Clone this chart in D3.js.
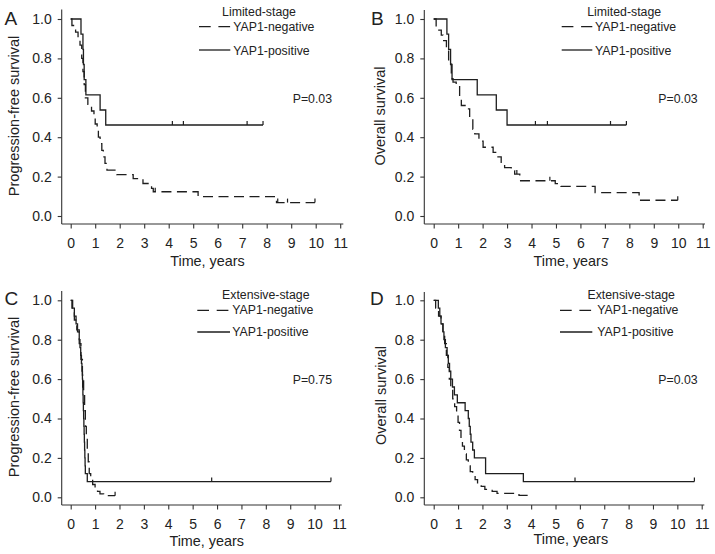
<!DOCTYPE html>
<html><head><meta charset="utf-8">
<script src="https://cdn.jsdelivr.net/npm/d3@7"></script>
<style>
body{margin:0;background:#fff}
svg{display:block}
text{font-family:"Liberation Sans",Arial,Helvetica,sans-serif;fill:#222}
</style>
</head><body>
<svg id="chart" width="715" height="554"></svg>
<script>
// ---- tick labels ----
const xTicks = [0,1,2,3,4,5,6,7,8,9,10,11];
const yTicks = [0,0.2,0.4,0.6,0.8,1.0];

// ---- series: [time (years), survival] ----
const limitedPfsNeg = [[0,1],[0.05,0.967],[0.2,0.933],[0.3,0.9],[0.38,0.867],[0.45,0.8],[0.5,0.733],[0.55,0.667],[0.6,0.6],[0.7,0.567],[0.85,0.533],[0.95,0.5],[1.0,0.467],[1.08,0.433],[1.13,0.4],[1.2,0.367],[1.27,0.333],[1.33,0.3],[1.4,0.267],[1.48,0.233],[1.88,0.21],[2.55,0.19],[2.95,0.165],[3.3,0.14],[3.37,0.123],[5.2,0.098],[8.4,0.068],[9.97,0.068]];
const limitedPfsPos = [[0,1],[0.42,0.923],[0.5,0.846],[0.52,0.769],[0.55,0.692],[0.62,0.615],[1.2,0.538],[1.43,0.462],[7.85,0.462]];
const limitedOsNeg = [[0,1],[0.1,0.944],[0.31,0.918],[0.38,0.89],[0.52,0.85],[0.61,0.78],[0.72,0.697],[0.79,0.68],[0.92,0.663],[1.06,0.612],[1.13,0.561],[1.33,0.544],[1.47,0.493],[1.6,0.44],[1.68,0.417],[1.85,0.38],[2.02,0.349],[2.43,0.323],[2.6,0.3],[2.76,0.272],[2.9,0.246],[3.17,0.23],[3.31,0.213],[3.52,0.179],[4.97,0.164],[5.2,0.15],[6.6,0.119],[8.4,0.08],[9.98,0.08]];
const limitedOsPos = [[0,1],[0.54,0.923],[0.61,0.846],[0.69,0.769],[0.75,0.692],[1.78,0.615],[2.56,0.538],[3.0,0.462],[7.88,0.462]];
const extensivePfsNeg = [[0,1],[0.05,0.96],[0.15,0.9],[0.25,0.85],[0.35,0.78],[0.42,0.7],[0.48,0.62],[0.53,0.52],[0.57,0.44],[0.6,0.36],[0.64,0.3],[0.68,0.24],[0.72,0.18],[0.76,0.12],[0.82,0.09],[0.9,0.065],[1.0,0.045],[1.1,0.03],[1.2,0.017],[1.35,0.008],[1.82,0.008]];
const extensivePfsPos = [[0,1],[0.08,0.96],[0.15,0.92],[0.22,0.88],[0.28,0.84],[0.35,0.80],[0.38,0.76],[0.41,0.72],[0.44,0.68],[0.46,0.64],[0.48,0.60],[0.49,0.56],[0.5,0.52],[0.51,0.48],[0.52,0.44],[0.53,0.40],[0.54,0.36],[0.55,0.32],[0.56,0.28],[0.57,0.24],[0.58,0.20],[0.59,0.16],[0.6,0.12],[0.68,0.08],[10.67,0.08]];
const extensiveOsNeg = [[0,1],[0.08,0.96],[0.2,0.92],[0.3,0.88],[0.38,0.83],[0.45,0.78],[0.52,0.72],[0.58,0.66],[0.64,0.6],[0.7,0.55],[0.78,0.5],[0.86,0.46],[0.94,0.42],[1.0,0.38],[1.06,0.34],[1.12,0.3],[1.18,0.26],[1.26,0.22],[1.34,0.19],[1.42,0.16],[1.5,0.13],[1.6,0.11],[1.7,0.09],[1.8,0.07],[1.95,0.055],[2.1,0.04],[2.4,0.03],[2.6,0.02],[3.5,0.01],[4.02,0.01]];
const extensiveOsPos = [[0,1],[0.19,0.96],[0.25,0.92],[0.3,0.88],[0.38,0.84],[0.42,0.8],[0.48,0.76],[0.55,0.72],[0.6,0.68],[0.65,0.64],[0.7,0.6],[0.77,0.56],[0.85,0.52],[0.97,0.48],[1.29,0.44],[1.42,0.40],[1.46,0.36],[1.5,0.32],[1.53,0.28],[1.6,0.24],[1.67,0.20],[2.13,0.12],[3.68,0.08],[10.7,0.08]];

// ---- censor times ----
const limitedPfsNegCensor = [3.45, 8.45, 8.85, 9.97];
const limitedPfsPosCensor = [4.15, 4.6, 7.2, 7.85];
const limitedOsNegCensor = [3.4, 4.75, 9.98];
const limitedOsPosCensor = [4.16, 4.65, 7.23, 7.88];
const extensivePfsNegCensor = [1.82];
const extensivePfsPosCensor = [5.78, 10.67];
const extensiveOsNegCensor = [];
const extensiveOsPosCensor = [5.8, 10.7];

// ---- text ----
const panelLetters = ["A","B","C","D"];
const yTitles = ["Progression-free survival","Overall survival","Progression-free survival","Overall survival"];
const stageLabels = ["Limited-stage","Limited-stage","Extensive-stage","Extensive-stage"];
const pValues = ["P=0.03","P=0.03","P=0.75","P=0.03"];
const seriesNames = ["YAP1-negative","YAP1-positive"];
const xTitle = "Time, years";

const panels = [
  {neg:limitedPfsNeg, pos:limitedPfsPos, negC:limitedPfsNegCensor, posC:limitedPfsPosCensor,
   axisX:61.7, xr:[70.7,340.2], yr:[216,19], axisY:224, top:9.5, right:343.3,
   letter:[4.5,25], yt:[19,116], xt:[207.5,266],
   stage:[259,15.7], lx:[199,230.3], negY:26.7, negTx:233.3, negTy:31.3, posY:50, posTy:55, p:[292.7,103.3]},
  {neg:limitedOsNeg, pos:limitedOsPos, negC:limitedOsNegCensor, posC:limitedOsPosCensor,
   axisX:424.3, xr:[433.7,702.7], yr:[216,19], axisY:224, top:10, right:705,
   letter:[371,25], yt:[385,116], xt:[570.8,266],
   stage:[624.2,15.7], lx:[561.7,592.3], negY:26.7, negTx:595, negTy:31.3, posY:50, posTy:55, p:[658.3,103.3]},
  {neg:extensivePfsNeg, pos:extensivePfsPos, negC:extensivePfsNegCensor, posC:extensivePfsPosCensor,
   axisX:61.7, xr:[70.7,339], yr:[497.3,300.3], axisY:505, top:291, right:341.7,
   letter:[4.5,305.3], yt:[19,397], xt:[206.7,545.5],
   stage:[265.8,298.7], lx:[197.3,230], negY:310.3, negTx:232.3, negTy:313.7, posY:332, posTy:335.7, p:[292.7,384.3]},
  {neg:extensiveOsNeg, pos:extensiveOsPos, negC:extensiveOsNegCensor, posC:extensiveOsPosCensor,
   axisX:424.3, xr:[433.7,701.7], yr:[497.3,300.3], axisY:505, top:292, right:704.3,
   letter:[370,305.3], yt:[385.5,395.5], xt:[570.8,544],
   stage:[631.2,298.7], lx:[560,592.3], negY:310.3, negTx:597.3, negTy:313.7, posY:332, posTy:335.7, p:[658.3,384.3]}
];

const svg = d3.select("#chart");
const ink = "#1e1e1e";
const axisInk = "#333";

function survAt(series, t){
  const i = d3.bisector(d=>d[0]).right(series, t) - 1;
  return series[Math.max(0,i)][1];
}

panels.forEach((p, k) => {
  const g = svg.append("g");
  const x = d3.scaleLinear().domain([0,11]).range(p.xr);
  const y = d3.scaleLinear().domain([0,1]).range(p.yr);

  // axis lines
  g.append("line").attr("x1",p.axisX).attr("x2",p.axisX).attr("y1",p.top).attr("y2",p.axisY)
    .attr("stroke",axisInk).attr("stroke-width",1.1);
  g.append("line").attr("x1",p.axisX).attr("x2",p.right).attr("y1",p.axisY).attr("y2",p.axisY)
    .attr("stroke",axisInk).attr("stroke-width",1.1);

  const xa = g.append("g").attr("transform",`translate(0,${p.axisY})`)
    .call(d3.axisBottom(x).tickValues(xTicks).tickSize(4.5).tickPadding(9.5).tickSizeOuter(0).tickFormat(d3.format("d")));
  xa.select(".domain").remove();
  xa.selectAll("line").attr("stroke",axisInk).attr("stroke-width",1.1);
  xa.selectAll("text").attr("font-size",14).attr("font-family",null).attr("fill","#222");
  xa.attr("font-family",null);

  const ya = g.append("g").attr("transform",`translate(${p.axisX},0)`)
    .call(d3.axisLeft(y).tickValues(yTicks).tickSize(4).tickPadding(6).tickSizeOuter(0).tickFormat(d3.format(".1f")));
  ya.select(".domain").remove();
  ya.selectAll("line").attr("stroke",axisInk).attr("stroke-width",1.1);
  ya.selectAll("text").attr("font-size",14).attr("fill","#222");
  ya.attr("font-family",null);

  // titles
  g.append("text").attr("x",p.letter[0]).attr("y",p.letter[1]).attr("font-size",19).text(panelLetters[k]);
  g.append("text").attr("transform",`translate(${p.yt[0]},${p.yt[1]}) rotate(-90)`)
    .attr("text-anchor","middle").attr("font-size",14.5).text(yTitles[k]);
  g.append("text").attr("x",p.xt[0]).attr("y",p.xt[1]).attr("text-anchor","middle").attr("font-size",14.4).text(xTitle);

  // legend
  g.append("text").attr("x",p.stage[0]).attr("y",p.stage[1]).attr("text-anchor","middle").attr("font-size",12.3).text(stageLabels[k]);
  g.append("line").attr("x1",p.lx[0]).attr("x2",p.lx[1]).attr("y1",p.negY).attr("y2",p.negY)
    .attr("stroke",ink).attr("stroke-width",1.3).attr("stroke-dasharray","11.7,7.7");
  g.append("text").attr("x",p.negTx).attr("y",p.negTy).attr("font-size",12.3).text(seriesNames[0]);
  g.append("line").attr("x1",p.lx[0]).attr("x2",p.lx[1]).attr("y1",p.posY).attr("y2",p.posY)
    .attr("stroke",ink).attr("stroke-width",1.3);
  g.append("text").attr("x",p.negTx).attr("y",p.posTy).attr("font-size",12.3).text(seriesNames[1]);
  g.append("text").attr("x",p.p[0]).attr("y",p.p[1]).attr("font-size",12.3).text(pValues[k]);

  // curves
  const line = d3.line().x(d=>x(d[0])).y(d=>y(d[1])).curve(d3.curveStepAfter);
  g.append("path").datum(p.neg).attr("d",line).attr("fill","none").attr("stroke",ink)
    .attr("stroke-width",1.3).attr("stroke-dasharray","10,5.5");
  g.append("path").datum(p.pos).attr("d",line).attr("fill","none").attr("stroke",ink)
    .attr("stroke-width",1.3);

  // censor marks
  const marks = [[p.neg,p.negC],[p.pos,p.posC]];
  marks.forEach(([s,c]) => {
    g.selectAll(null).data(c).enter().append("line")
      .attr("x1",t=>x(t)).attr("x2",t=>x(t))
      .attr("y1",t=>y(survAt(s,t))).attr("y2",t=>y(survAt(s,t))-4)
      .attr("stroke",ink).attr("stroke-width",1.2);
  });
});
</script>
</body></html>
